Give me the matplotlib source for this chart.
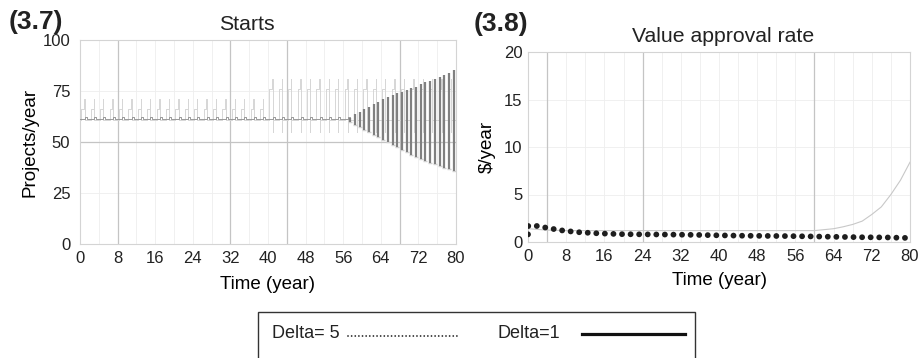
import matplotlib
matplotlib.use("Agg")
import matplotlib.pyplot as plt
from matplotlib.patches import Rectangle
from matplotlib.lines import Line2D

plt.rcParams['font.family'] = ['Liberation Sans', 'DejaVu Sans']

# ---------------- data: panel (3.7) Starts ----------------
# light series: one pulse per cycle (cycle start times, plateau, spike top, spike bottom, base)
light_cycle_t = [0, 2, 4, 6, 8, 10, 12, 14, 16, 18, 20, 22, 24, 26, 28, 30, 32, 34, 36, 38,
                 40, 42, 44, 46, 48, 50, 52, 54, 56, 58, 60, 62, 64, 66, 68, 70, 72, 74, 76, 78]
light_plateau = [66] * 20 + [76] * 20
light_peak = [71] * 20 + [81] * 20
light_trough = [61] * 20 + [55] * 20
light_base = [61] * 40

# dark series, early phase: small square wave
dark_early_t = [0, 2, 4, 6, 8, 10, 12, 14, 16, 18, 20, 22, 24, 26, 28, 30, 32, 34, 36, 38,
                40, 42, 44, 46, 48, 50, 52, 54, 56]
dark_early_hi = [62.5] * 29
dark_early_lo = [61.2] * 29

# dark series, late phase: growing oscillation (spike times, tops, bottoms)
dark_late_t = [57.5, 58.5, 59.5, 60.5, 61.5, 62.5, 63.5, 64.5, 65.5, 66.5, 67.5, 68.5,
               69.5, 70.5, 71.5, 72.5, 73.5, 74.5, 75.5, 76.5, 77.5, 78.5, 79.5]
dark_late_top = [61.6, 63.7, 64.9, 66.2, 67.3, 68.6, 69.8, 70.9, 71.9, 73.0, 73.9, 74.7,
                 75.5, 76.3, 77.1, 78.3, 79.2, 80.1, 80.7, 81.7, 82.7, 83.7, 85.5]
dark_late_bot = [60.0, 58.3, 57.2, 55.9, 54.7, 53.4, 52.3, 51.0, 49.8, 48.5, 47.4, 46.1,
                 44.9, 43.6, 42.8, 41.7, 40.8, 39.9, 39.1, 38.2, 37.4, 36.6, 36.0]

# ---------------- data: panel (3.8) Value approval rate ----------------
delta5_t = [0, 0, 1.7, 3.3, 5, 6.6, 8.3, 10, 11.6, 13.3, 15, 20, 25, 30, 35, 40, 45, 50,
            55, 60, 65, 70, 75, 80]
delta5_v = [0.8, 1.68, 1.7, 1.55, 1.4, 1.25, 1.15, 1.05, 1.0, 0.95, 0.9, 0.82, 0.8, 0.78,
            0.75, 0.7, 0.66, 0.64, 0.62, 0.58, 0.54, 0.5, 0.48, 0.42]
delta1_t = [0, 0, 4, 8, 60, 62, 64, 66, 68, 70, 72, 74, 76, 78, 80]
delta1_v = [0.8, 1.4, 1.25, 1.2, 1.2, 1.3, 1.4, 1.6, 1.85, 2.2, 2.9, 3.7, 5.0, 6.5, 8.4]

x_ticks = [0, 8, 16, 24, 32, 40, 48, 56, 64, 72, 80]
left_yticks = [0, 25, 50, 75, 100]
right_yticks = [0, 5, 10, 15, 20]
minor_x = [4, 8, 12, 16, 20, 24, 28, 32, 36, 40, 44, 48, 52, 56, 60, 64, 68, 72, 76]
left_major_x = [8, 32, 44, 68]
right_major_x = [4, 24, 60]

W, H = 920, 358
fig = plt.figure(figsize=(W / 100, H / 100), dpi=100)


def px_axes(x0, y0, x1, y1):
    return fig.add_axes([x0 / W, 1 - y1 / H, (x1 - x0) / W, (y1 - y0) / H])


def style(ax, ylim, yticks, major_x, hgrid, hmajor, ypad):
    ax.set_xlim(0, 80)
    ax.set_ylim(*ylim)
    ax.set_xticks(x_ticks)
    ax.set_yticks(yticks)
    ax.tick_params(length=0, labelsize=12, colors='#222222')
    ax.tick_params(axis='y', pad=ypad)
    ax.tick_params(axis='x', pad=5)
    for s in ax.spines.values():
        s.set_color('#d4d4d4')
        s.set_linewidth(0.8)
    for x in minor_x:
        ax.axvline(x, color='#eeeeee', lw=0.6, zorder=0)
    for y in hgrid:
        ax.axhline(y, color='#eeeeee', lw=0.6, zorder=0)
    for x in major_x:
        ax.axvline(x, color='#c4c4c4', lw=0.9, zorder=0.5)
    for y in hmajor:
        ax.axhline(y, color='#c4c4c4', lw=0.9, zorder=0.5)


# ---- left panel ----
ax1 = px_axes(80, 40, 456, 244)
style(ax1, (0, 100), left_yticks, left_major_x, [25, 75], [50], 7)

# light series polyline built from per-cycle values
lx, ly = [], []
for c, pl, pk, tr, b in zip(light_cycle_t, light_plateau, light_peak, light_trough, light_base):
    lx += [c, c + 0.3, c + 0.3, c + 0.9, c + 0.9, c + 1.0, c + 1.0, c + 1.0, c + 2.0]
    ly += [b, b, pl, pl, pk, pk, tr, b, b]
ax1.plot(lx, ly, color='#d6d6d6', lw=0.7, zorder=2)

dx, dy = [], []
for c, hi, lo in zip(dark_early_t, dark_early_hi, dark_early_lo):
    dx += [c, c + 1.0, c + 1.0, c + 1.4, c + 1.4]
    dy += [lo, lo, hi, hi, lo]
ax1.plot(dx, dy, color='#9a9a9a', lw=0.7, zorder=3)
ax1.vlines(dark_late_t, dark_late_bot, dark_late_top, color='#808080', lw=1.6, zorder=3)
ax1.plot(dark_late_t, dark_late_bot, ls='none', marker='_', ms=3, color='#d0d0d0', zorder=2)

ax1.set_ylabel('Projects/year', fontsize=13.5, labelpad=3)
ax1.set_xlabel('Time (year)', fontsize=13.5, labelpad=7)

# ---- right panel ----
ax2 = px_axes(528, 52, 910, 242)
style(ax2, (0, 20), right_yticks, right_major_x, [5, 10, 15], [], 4)
ax2.plot(delta1_t, delta1_v, color='#c8c8c8', lw=0.8, zorder=2)
ax2.plot(delta5_t, delta5_v, color='#1e1e1e', lw=4.2, ls=(0, (0.01, 1.46)),
         dash_capstyle='round', zorder=3)
ax2.set_ylabel('$/year', fontsize=13.5, labelpad=6)
ax2.set_xlabel('Time (year)', fontsize=13.5, labelpad=6)

# ---- titles and panel labels ----
fig.text(247 / W, 1 - 24 / H, 'Starts', fontsize=15.3, ha='center', va='center', color='#222222')
fig.text(723 / W, 1 - 37 / H, 'Value approval rate', fontsize=15.3, ha='center', va='center',
         color='#222222')
fig.text(9 / W, 1 - 22 / H, '(3.7)', fontsize=19, fontweight='bold', ha='left', va='center',
         color='#222222')
fig.text(474 / W, 1 - 24 / H, '(3.8)', fontsize=19, fontweight='bold', ha='left', va='center',
         color='#222222')

# ---- legend box (runs off the bottom edge, as in the reference) ----
fig.patches.append(Rectangle((258 / W, -0.2), (695 - 258) / W, 0.2 + (1 - 312 / H),
                             transform=fig.transFigure, fill=False, ec='#333333', lw=1.0))
ly_leg = 1 - 333 / H
fig.text(272 / W, ly_leg, 'Delta= 5', fontsize=13, ha='left', va='center', color='#222222')
fig.text(498 / W, ly_leg, 'Delta=1', fontsize=13, ha='left', va='center', color='#222222')
fig.add_artist(Line2D([348 / W, 458 / W], [ly_leg - 0.008, ly_leg - 0.008], transform=fig.transFigure,
                      color='#222222', lw=1.3, ls=(0, (0.01, 2.0)), dash_capstyle='round'))
fig.add_artist(Line2D([582 / W, 685 / W], [ly_leg - 0.004, ly_leg - 0.004], transform=fig.transFigure,
                      color='#111111', lw=2.3))

fig.savefig('out.png', dpi=100, facecolor='white')
